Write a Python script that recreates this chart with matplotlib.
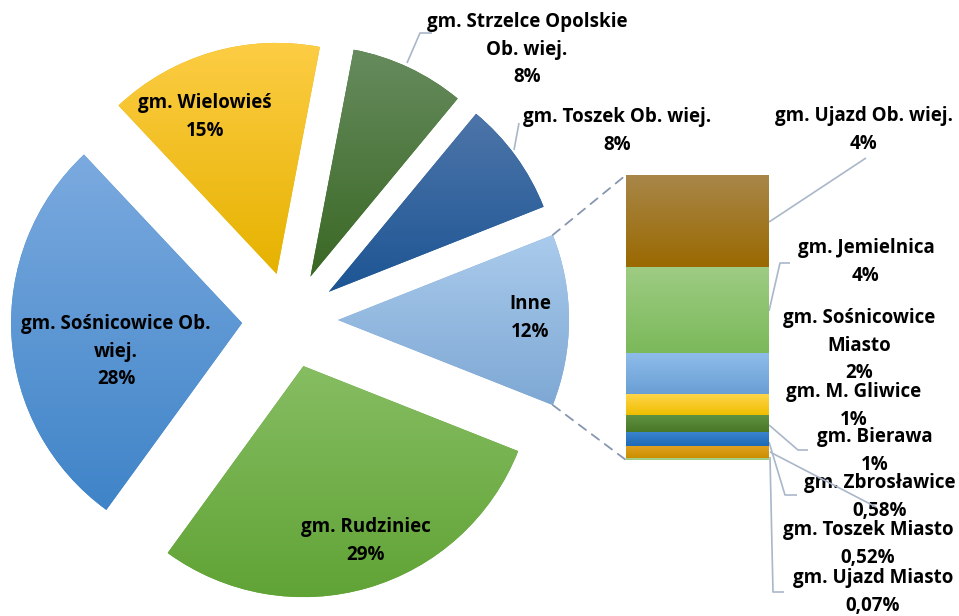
import numpy as np
import matplotlib
matplotlib.use("Agg")
import matplotlib.pyplot as plt
from matplotlib.patches import ConnectionPatch
from matplotlib.colors import to_rgb

plt.rcParams['font.family'] = ['Open Sans', 'DejaVu Sans']

W, H = 959, 616

# pie part (counter-clockwise, starting with "Inne" centred at 3 o'clock)
pie_labels = ['Inne', 'gm. Toszek Ob. wiej.', 'gm. Strzelce Opolskie\nOb. wiej.',
              'gm. Wielowieś', 'gm. Sośnicowice Ob.\nwiej.', 'gm. Rudziniec']
pie_values = [12, 8, 8, 15, 28, 29]
pie_top = ['#aacbec', '#4d75a9', '#668b5e', '#fdcd45', '#7baadf', '#86bd62']
pie_bottom = ['#7ea8d4', '#1d5594', '#3a6824', '#e6b200', '#3f84c8', '#60a335']

# bar part (bottom -> top), breakdown of "Inne"
bar_labels = ['gm. Ujazd Miasto', 'gm. Toszek Miasto', 'gm. Zbrosławice', 'gm. Bierawa',
              'gm. M. Gliwice', 'gm. Sośnicowice\nMiasto', 'gm. Jemielnica', 'gm. Ujazd Ob. wiej.']
bar_values = [0.07, 0.52, 0.58, 0.70, 0.90, 1.70, 3.60, 3.85]
bar_pct = ['0,07%', '0,52%', '0,58%', '1%', '1%', '2%', '4%', '4%']
bar_top = ['#abd590', '#e2a324', '#3a83cd', '#619242', '#ffd64e', '#8ebcea', '#9ecc83', '#a8874a']
bar_bottom = ['#9cc880', '#cc8e00', '#1f6ab5', '#487826', '#f0be00', '#6a9fd5', '#7bb95a', '#9a6900']


def fill_gradient(ax, patch, top, bottom):
    verts = patch.get_patch_transform().transform(patch.get_path().vertices)
    x0, x1 = verts[:, 0].min(), verts[:, 0].max()
    y0, y1 = verts[:, 1].min(), verts[:, 1].max()
    t = np.linspace(0, 1, 200)[:, None]
    c0, c1 = np.array(to_rgb(bottom)), np.array(to_rgb(top))
    img = (c0 + (c1 - c0) * t)[:, None, :]
    im = ax.imshow(img, extent=[x0, x1, y0, y1], origin='lower', aspect='auto',
                   interpolation='bilinear', zorder=patch.get_zorder() + 0.1)
    im.set_clip_path(patch)


fig = plt.figure(figsize=(W / 100, H / 100), dpi=100)
ax = fig.add_axes([0, 0, 1, 1])

start = -pie_values[0] / 100 * 360 / 2
wedges, _ = ax.pie(pie_values, center=(290, H - 320), radius=231, explode=[48] * 6,
                   startangle=start, counterclock=True, colors=pie_bottom,
                   wedgeprops=dict(linewidth=0))
for w, ct, cb in zip(wedges, pie_top, pie_bottom):
    fill_gradient(ax, w, ct, cb)

ax.set_xlim(0, W)
ax.set_ylim(0, H)
ax.set_aspect('auto')
ax.axis('off')

# bar of the "Inne" slice
ax2 = fig.add_axes([626 / W, (H - 460) / H, 143 / W, 285 / H])
bottoms = np.concatenate([[0], np.cumsum(bar_values)[:-1]])
bars = ax2.bar(0, bar_values, bottom=bottoms, width=1.0, color=bar_bottom, linewidth=0)
for b, ct, cb in zip(bars, bar_top, bar_bottom):
    fill_gradient(ax2, b, ct, cb)
ax2.set_xlim(-0.5, 0.5)
ax2.set_ylim(0, sum(bar_values))
ax2.axis('off')

# dashed connectors from the "Inne" wedge to the bar
inne = wedges[0]
cx, cy = inne.center
for ang, yb in [(inne.theta2, sum(bar_values)), (inne.theta1, 0)]:
    pa = (cx + inne.r * np.cos(np.radians(ang)), cy + inne.r * np.sin(np.radians(ang)))
    con = ConnectionPatch(xyA=pa, coordsA=ax.transData, xyB=(-0.5, yb), coordsB=ax2.transData,
                          color='#8797b0', linestyle=(0, (5, 4)), linewidth=1.3)
    fig.add_artist(con)

fs = 13.5
ls = 1.5
def label(x, y, s, **kw):
    ax.text(x, H - y, s, ha='center', va='center', fontsize=fs, fontweight='bold',
            linespacing=ls, color='black', **kw)

def leader(pts):
    xs = [p[0] for p in pts]
    ys = [H - p[1] for p in pts]
    ax.plot(xs, ys, color='#a9b7c9', linewidth=1.2, solid_capstyle='butt', zorder=5)

# labels inside / near the pie
pie_pos = [(530, 318), (617, 131), (527, 50), (205, 117), (116, 352), (366, 541)]
for (x, y), lab, v in zip(pie_pos, pie_labels, pie_values):
    label(x, y, f'{lab}\n{v}%')

# labels for the bar
bar_pos = [(873, 592), (868, 544), (880, 497), (875, 451), (854, 406), (859, 346), (866, 262), (864, 130)]
for (x, y), lab, p in zip(bar_pos, bar_labels, bar_pct):
    label(x, y, f'{lab}\n{p}')

leader([(407, 63), (420, 33), (432, 33)])
leader([(514, 150), (519, 123)])
leader([(769, 222), (866, 158)])
leader([(769, 311), (780, 263), (790, 263)])
leader([(769, 425), (798, 450), (808, 450)])
leader([(769, 442), (785, 495), (797, 495)])
leader([(770, 452), (876, 507)])
leader([(770, 457), (773, 592), (784, 592)])

fig.savefig('out.png', dpi=100)
